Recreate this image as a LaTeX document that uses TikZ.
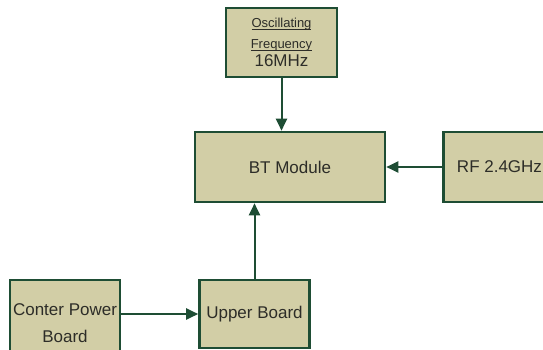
\documentclass[tikz,border=0pt]{standalone}
\usepackage{fontspec}
\setmainfont{Liberation Sans}
\usetikzlibrary{arrows.meta}

\definecolor{boxfill}{RGB}{210,206,166}
\definecolor{boxline}{RGB}{30,77,52}
\definecolor{boxtext}{RGB}{45,45,40}

\newsavebox{\ulbox}
\newcommand{\ulword}[1]{\sbox{\ulbox}{#1}\rlap{\usebox{\ulbox}}\rule[-2pt]{\wd\ulbox}{0.7pt}}

\begin{document}
\begin{tikzpicture}[x=1pt, y=-1pt,
        block/.style={draw=boxline, fill=boxfill, line width=2.6pt, text=boxtext,
            font=\fontsize{17}{20}\selectfont, align=center, inner sep=0pt},
        link/.style={draw=boxline, line width=2pt, -{Triangle[length=12pt, width=11pt]}}]

        \useasboundingbox (0,0) rectangle (543,349);
        \clip (0,0) rectangle (543,349);

        % ====================
        % blocks
        % ====================
        \node[block, minimum width=111pt, minimum height=69pt] (osc) at (281.5,42.5)
            {\raisebox{-3pt}{\fontsize{13}{15}\selectfont\ulword{Oscillating}}\\[1pt]
             \raisebox{-3pt}{\fontsize{13}{15}\selectfont\ulword{Frequency}}\\[-3pt]
             \raisebox{-4pt}{16MHz}};
        \node[block, minimum width=190pt, minimum height=70pt] (bt) at (290,167) {BT Module};
        \node[block, minimum width=112pt, minimum height=70pt] (rf) at (499.5,167) {RF 2.4GHz};
        \node[block, minimum width=110pt, minimum height=86pt] (cpb) at (65,323)
            {Conter Power\\[7pt] Board};
        \node[block, minimum width=110pt, minimum height=68pt] (ub) at (254.5,314) {Upper Board};

        % ====================
        % connectors
        % ====================
        \draw[link] (osc.south) -- (osc.south |- bt.north);
        \draw[link] (rf.west) -- (bt.east |- rf.west);
        \draw[link] (ub.north) -- (ub.north |- bt.south);
        \draw[link] (cpb.east |- ub.west) -- (ub.west);

    \end{tikzpicture}
\end{document}
